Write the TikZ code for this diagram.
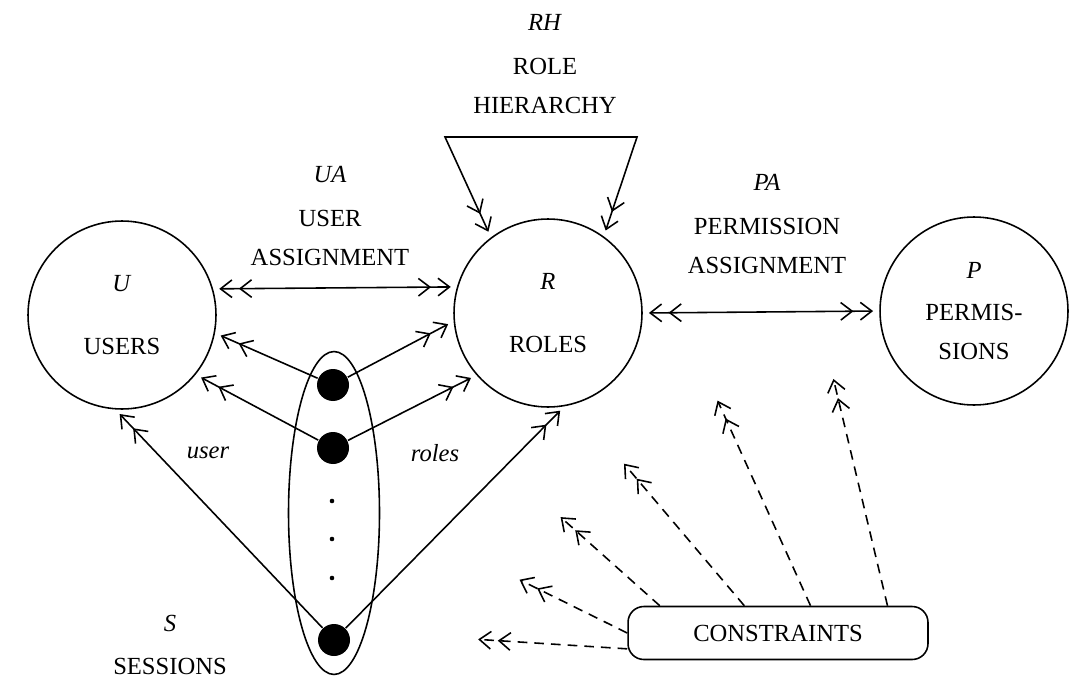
\documentclass[tikz,border=0pt]{standalone}
\usepackage{fontspec}
\setmainfont{Liberation Serif}
\usetikzlibrary{shapes.geometric, arrows.meta}
\tikzstyle{set} = [circle, draw, minimum size=3.76cm, inner sep=0pt, align=center]
\tikzstyle{sess} = [circle, fill=black, minimum size=0.64cm, inner sep=0pt]
\tikzstyle{dot} = [circle, fill=black, minimum size=2.6pt, inner sep=0pt]
\tikzstyle{txt} = [align=center]
\tikzstyle{box} = [rectangle, draw, rounded corners=9pt, minimum width=6cm, minimum height=1.06cm]
\tikzstyle{arrow} = [->>]
\tikzstyle{dblarrow} = [<<->>]
\tikzstyle{constr} = [->>, dash pattern=on 5.5pt off 4pt]

\begin{document}
\begin{tikzpicture}[x=0.02cm, y=-0.02cm, line width=0.9pt,
    >={Straight Barb[length=6.5pt,width=10pt,sep=3.5pt]},
    font=\fontsize{14}{22}\selectfont]
\useasboundingbox (0,0) rectangle (1087,699);

% Nodes
\node (users) [set] at (122,315) {\textit{U}\\[14pt] USERS};
\node (roles) [set] at (548,313) {\textit{R}\\[14pt] ROLES};
\node (perms) [set] at (974,311) {\textit{P}\\[2pt] PERMIS-\\ SIONS};

\node (sset) [ellipse, draw, minimum width=1.82cm, minimum height=6.46cm, inner sep=0pt] at (334,513) {};
\node (s1) [sess] at (333,385) {};
\node (s2) [sess] at (333,448) {};
\node (s3) [sess] at (334,640) {};
\node (d1) [dot] at (332,501) {};
\node (d2) [dot] at (332,539) {};
\node (d3) [dot] at (332,578) {};

\node (constraints) [box] at (778,633) {CONSTRAINTS};

\node (rh) [txt] at (545,64) {\textit{RH}\\[3pt] ROLE\\ HIERARCHY};
\node (ua) [txt] at (330,216) {\textit{UA}\\[3pt] USER\\ ASSIGNMENT};
\node (pa) [txt] at (767,224) {\textit{PA}\\[3pt] PERMISSION\\ ASSIGNMENT};
\node (stxt) [txt] at (170,645) {\textit{S}\\[3pt] SESSIONS};
\node (user) at (208,453) {\textit{user}};
\node (rolestxt) at (435,453) {\textit{roles}};

\coordinate (rhl) at (445,137);
\coordinate (rhr) at (637,137);
\coordinate (c1) at (472,639);
\coordinate (c2) at (514,577);
\coordinate (c3) at (556,513);
\coordinate (c4) at (620,459);
\coordinate (c5) at (715,395);
\coordinate (c6) at (832,373);

% Arrows
\draw [dblarrow] (users.16) -- (roles.164);
\draw [dblarrow] (roles.0) -- (perms.180);
\draw [dblarrow] (roles.127) -- (rhl) -- (rhr) -- (roles.54);

\draw [arrow] (s1) -- (users.-11);
\draw [arrow] (s2) -- (users.-39);
\draw [arrow] (s3) -- (users.-94);
\draw [arrow] (s1) -- (roles.185);
\draw [arrow] (s2) -- (roles.221);
\draw [arrow] (s3) -- (roles.280);

\draw [constr] (constraints.186) -- (c1);
\draw [constr] (constraints.180) -- (c2);
\draw [constr] (constraints.167) -- (c3);
\draw [constr] (constraints.141) -- (c4);
\draw [constr] (constraints.40) -- (c5);
\draw [constr] (constraints.14) -- (c6);

\end{tikzpicture}
\end{document}
